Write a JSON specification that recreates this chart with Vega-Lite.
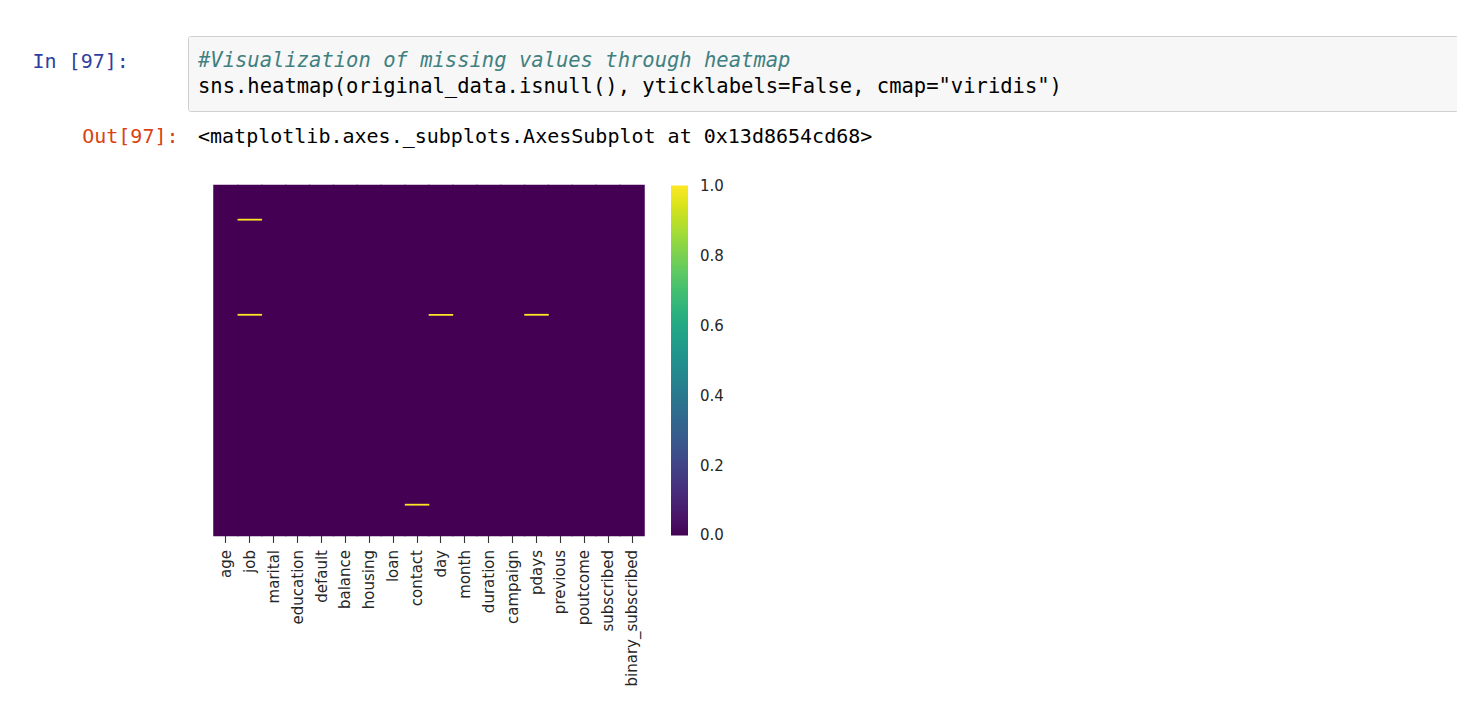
{
  "$schema": "https://vega.github.io/schema/vega-lite/v6.json",
  "background": "white",
  "padding": {"left": 31, "top": 35, "right": 0, "bottom": 0},
  "autosize": {"type": "pad"},
  "spacing": 74.5,
  "bounds": "flush",
  "resolve": {"scale": {"color": "independent"}, "legend": {"color": "independent"}},
  "config": {"view": {"stroke": null}, "axis": {"grid": false}},
  "datasets": {
    "code": [
      {"line": 1, "kind": "comment", "text": "#Visualization of missing values through heatmap"},
      {"line": 2, "kind": "code", "text": "sns.heatmap(original_data.isnull(), yticklabels=False, cmap=\"viridis\")"}
    ],
    "columns": [
      {"column": "age", "first_row": 0, "last_row": 31647, "missing": 0},
      {"column": "job", "first_row": 0, "last_row": 31647, "missing": 0},
      {"column": "marital", "first_row": 0, "last_row": 31647, "missing": 0},
      {"column": "education", "first_row": 0, "last_row": 31647, "missing": 0},
      {"column": "default", "first_row": 0, "last_row": 31647, "missing": 0},
      {"column": "balance", "first_row": 0, "last_row": 31647, "missing": 0},
      {"column": "housing", "first_row": 0, "last_row": 31647, "missing": 0},
      {"column": "loan", "first_row": 0, "last_row": 31647, "missing": 0},
      {"column": "contact", "first_row": 0, "last_row": 31647, "missing": 0},
      {"column": "day", "first_row": 0, "last_row": 31647, "missing": 0},
      {"column": "month", "first_row": 0, "last_row": 31647, "missing": 0},
      {"column": "duration", "first_row": 0, "last_row": 31647, "missing": 0},
      {"column": "campaign", "first_row": 0, "last_row": 31647, "missing": 0},
      {"column": "pdays", "first_row": 0, "last_row": 31647, "missing": 0},
      {"column": "previous", "first_row": 0, "last_row": 31647, "missing": 0},
      {"column": "poutcome", "first_row": 0, "last_row": 31647, "missing": 0},
      {"column": "subscribed", "first_row": 0, "last_row": 31647, "missing": 0},
      {"column": "binary_subscribed", "first_row": 0, "last_row": 31647, "missing": 0}
    ],
    "missing": [
      {"column": "job", "row": 3090, "missing": 1},
      {"column": "job", "row": 11690, "missing": 1},
      {"column": "day", "row": 11690, "missing": 1},
      {"column": "pdays", "row": 11690, "missing": 1},
      {"column": "contact", "row": 28862, "missing": 1}
    ]
  },
  "vconcat": [
    {
      "width": 1270,
      "height": 75,
      "view": {"fill": "#f7f7f7", "stroke": "#cfcfcf", "strokeWidth": 1, "cornerRadius": 2},
      "title": {
        "text": "<matplotlib.axes._subplots.AxesSubplot at 0x13d8654cd68>",
        "orient": "bottom", "anchor": "start", "frame": "group",
        "offset": 31.7, "baseline": "alphabetic", "dx": 10,
        "font": "DejaVu Sans Mono", "fontSize": 20, "fontWeight": "normal", "color": "#000000"
      },
      "data": {"name": "code"},
      "encoding": {
        "y": {
          "field": "line", "type": "ordinal",
          "scale": {"type": "point", "padding": 0.91, "align": 0.634},
          "axis": {
            "labels": false, "ticks": false, "domain": false,
            "title": "In [97]:", "titleAngle": 0, "titleAlign": "right", "titleBaseline": "alphabetic",
            "titleX": -59.7, "titleY": 31.7,
            "titleFont": "DejaVu Sans Mono", "titleFontSize": 20, "titleFontWeight": "normal", "titleColor": "#303F9F"
          }
        },
        "x": {"datum": 0, "type": "quantitative", "scale": {"domain": [0, 1]}, "axis": null},
        "text": {"field": "text"}
      },
      "layer": [
        {
          "transform": [{"filter": "datum.kind == 'comment'"}],
          "mark": {"type": "text", "align": "left", "baseline": "alphabetic", "dx": 10,
                   "font": "DejaVu Sans Mono", "fontSize": 20.5, "fontStyle": "italic", "color": "#408080"}
        },
        {
          "transform": [{"filter": "datum.kind == 'code'"}],
          "mark": {"type": "text", "align": "left", "baseline": "alphabetic", "dx": 10,
                   "font": "DejaVu Sans Mono", "fontSize": 20.5, "color": "#000000"}
        }
      ]
    },
    {
      "width": 456,
      "height": 350,
      "encoding": {
        "x": {
          "field": "column", "type": "nominal",
          "scale": {
            "domain": ["age", "job", "marital", "education", "default", "balance", "housing", "loan", "contact", "day", "month", "duration", "campaign", "pdays", "previous", "poutcome", "subscribed", "binary_subscribed"],
            "paddingInner": 0, "paddingOuter": 0.5442, "align": 1
          },
          "axis": {
            "title": null, "domain": false, "labelAngle": 270,
            "labelFont": "DejaVu Sans", "labelFontSize": 15, "labelColor": "#262626",
            "tickColor": "#333333", "tickSize": 7, "tickWidth": 1.1, "labelPadding": 7,
            "labelOverlap": false, "labelBound": false
          }
        }
      },
      "layer": [
        {
          "data": {"name": "columns"},
          "mark": {"type": "rect", "stroke": "#440154", "strokeWidth": 1.5, "opacity": 1},
          "encoding": {
            "y": {
              "field": "first_row", "type": "quantitative",
              "scale": {"domain": [0, 31647], "reverse": true, "nice": false},
              "axis": {
                "labels": false, "ticks": false, "domain": false,
                "title": "Out[97]:", "titleAngle": 0, "titleAlign": "right", "titleBaseline": "alphabetic",
                "titleX": -10, "titleY": -42.8,
                "titleFont": "DejaVu Sans Mono", "titleFontSize": 20, "titleFontWeight": "normal", "titleColor": "#D84315"
              }
            },
            "y2": {"field": "last_row"},
            "color": {
              "field": "missing", "type": "quantitative",
              "scale": {"scheme": "viridis", "domain": [0, 1]},
              "legend": {
                "title": null, "direction": "vertical", "orient": "right",
                "values": [0.00001, 0.2, 0.4, 0.6, 0.8, 0.99999], "format": ".1f",
                "gradientLength": 350, "gradientThickness": 17, "gradientStrokeWidth": 0, "gradientOpacity": 1,
                "offset": 27, "padding": 0, "labelOffset": 12,
                "labelFont": "DejaVu Sans", "labelFontSize": 15, "labelColor": "#262626",
                "labelOverlap": false
              }
            }
          }
        },
        {
          "data": {"name": "missing"},
          "mark": {"type": "tick", "size": 24.5, "thickness": 1.8, "opacity": 1},
          "encoding": {
            "y": {"field": "row", "type": "quantitative"},
            "color": {"field": "missing", "type": "quantitative"}
          }
        }
      ]
    }
  ]
}
